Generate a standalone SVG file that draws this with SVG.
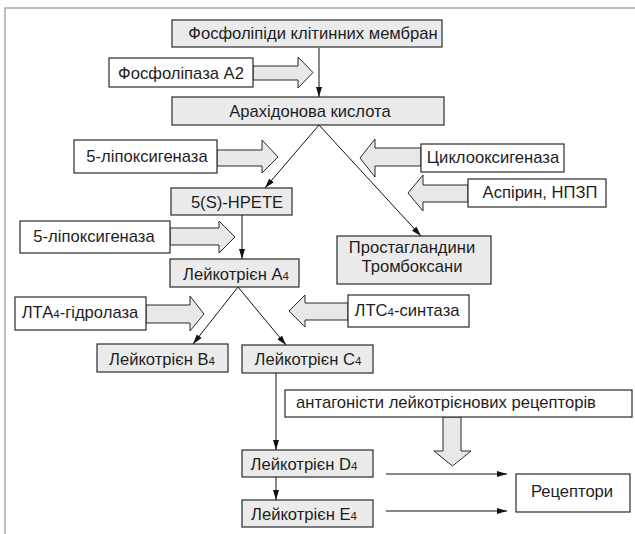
<svg xmlns="http://www.w3.org/2000/svg" width="635" height="534" viewBox="0 0 635 534">
<defs>
<marker id="ah" viewBox="0 0 10 6" refX="10" refY="3" markerWidth="10" markerHeight="6" markerUnits="userSpaceOnUse" orient="auto">
<path d="M0,0 L10,3 L0,6 Z" fill="#111"/>
</marker>
<style>
.frame{fill:none;stroke:#a8a8a8;stroke-width:1.5}
.g{fill:#ebebeb;stroke:#2a2a2a;stroke-width:1.2}
.w{fill:#ffffff;stroke:#2a2a2a;stroke-width:1.2}
.ba{fill:#e8e8e8;stroke:#2a2a2a;stroke-width:1}
.ln{fill:none;stroke:#111;stroke-width:1;marker-end:url(#ah)}
text{font-family:"Liberation Sans",Arial,sans-serif;font-size:16.6px;fill:#1e1e1e;text-anchor:middle}
.s{font-size:11.5px}
</style>
</defs>
<rect width="635" height="534" fill="#ffffff"/>
<path class="frame" d="M5,534 V8 H635"/>

<g id="connectors">
<line class="ln" x1="319" y1="48" x2="319" y2="97"/>
<line class="ln" x1="319" y1="125" x2="265" y2="188"/>
<line class="ln" x1="319" y1="125" x2="421" y2="236"/>
<line class="ln" x1="242" y1="215" x2="242" y2="259"/>
<line class="ln" x1="238" y1="287" x2="193" y2="344"/>
<line class="ln" x1="238" y1="287" x2="286" y2="345"/>
<line class="ln" x1="276" y1="373" x2="276" y2="450"/>
<line class="ln" x1="276" y1="477" x2="276" y2="500"/>
<line class="ln" x1="386" y1="474" x2="507" y2="474"/>
<line class="ln" x1="386" y1="511" x2="507" y2="511"/>
</g>

<g id="block-arrows">
<polygon class="ba" points="253,66 298,66 298,57 313,72.5 298,88 298,80 253,80"/>
<polygon class="ba" points="217,150 262,150 262,140 278,157 262,173 262,166 217,166"/>
<polygon class="ba" points="170,228 219,228 219,221 235,237 219,253 219,245 170,245"/>
<polygon class="ba" points="421,148 375,148 375,139 360,158 375,177 375,166 421,166"/>
<polygon class="ba" points="468,185 423,185 423,175 408,193 423,211 423,202 468,202"/>
<polygon class="ba" points="146,305 190,305 190,296 204,314 190,331 190,323 146,323"/>
<polygon class="ba" points="348,303 305,303 305,295 289,311 305,327 305,320 348,320"/>
<polygon class="ba" points="443,417 443,451 434,451 452.5,466 471,451 461,451 461,417"/>
</g>

<g id="n-phospholipids"><rect class="g" x="172" y="20" width="270" height="27"/><text x="313" y="39">Фосфоліпіди клітинних мембран</text></g>
<g id="n-pla2"><rect class="w" x="109" y="58" width="144" height="29"/><text x="181" y="79">Фосфоліпаза А2</text></g>
<g id="n-arachidonic"><rect class="g" x="172" y="97" width="272" height="28"/><text x="310" y="117">Арахідонова кислота</text></g>
<g id="n-5lox1"><rect class="w" x="74" y="140" width="143" height="33"/><text x="147" y="162">5-ліпоксигеназа</text></g>
<g id="n-cox"><rect class="w" x="421" y="144" width="143" height="28"/><text x="493" y="163">Циклооксигеназа</text></g>
<g id="n-aspirin"><rect class="w" x="468" y="179" width="138" height="28"/><text x="540" y="198">Аспірин, НПЗП</text></g>
<g id="n-hpete"><rect class="g" x="171" y="188" width="121" height="27"/><text x="237" y="208">5(S)-HPETE</text></g>
<g id="n-5lox2"><rect class="w" x="20" y="221" width="150" height="32"/><text x="94" y="242">5-ліпоксигеназа</text></g>
<g id="n-pg"><rect class="g" x="337" y="236" width="154" height="48"/><text x="412" y="253">Простагландини</text><text x="412" y="272">Тромбоксани</text></g>
<g id="n-lta4"><rect class="g" x="170" y="259" width="129" height="28"/><text x="236" y="280">Лейкотрієн А<tspan class="s">4</tspan></text></g>
<g id="n-lta4h"><rect class="w" x="15" y="297" width="131" height="33"/><text x="80" y="318">ЛТА<tspan class="s">4</tspan>-гідролаза</text></g>
<g id="n-ltc4s"><rect class="w" x="348" y="295" width="121" height="32"/><text x="407" y="316">ЛТС<tspan class="s">4</tspan>-синтаза</text></g>
<g id="n-ltb4"><rect class="g" x="97" y="344" width="131" height="28"/><text x="162" y="365">Лейкотрієн В<tspan class="s">4</tspan></text></g>
<g id="n-ltc4"><rect class="g" x="242" y="345" width="131" height="28"/><text x="308" y="365">Лейкотрієн С<tspan class="s">4</tspan></text></g>
<g id="n-antag"><rect class="w" x="285" y="390" width="347" height="27"/><text x="446" y="408">антагоністи лейкотрієнових рецепторів</text></g>
<g id="n-ltd4"><rect class="g" x="242" y="450" width="131" height="27"/><text x="304" y="470">Лейкотрієн D<tspan class="s">4</tspan></text></g>
<g id="n-lte4"><rect class="g" x="242" y="500" width="131" height="27"/><text x="304" y="520">Лейкотрієн E<tspan class="s">4</tspan></text></g>
<g id="n-receptors"><rect class="w" x="516" y="474" width="114" height="38"/><text x="572" y="497">Рецептори</text></g>
</svg>
